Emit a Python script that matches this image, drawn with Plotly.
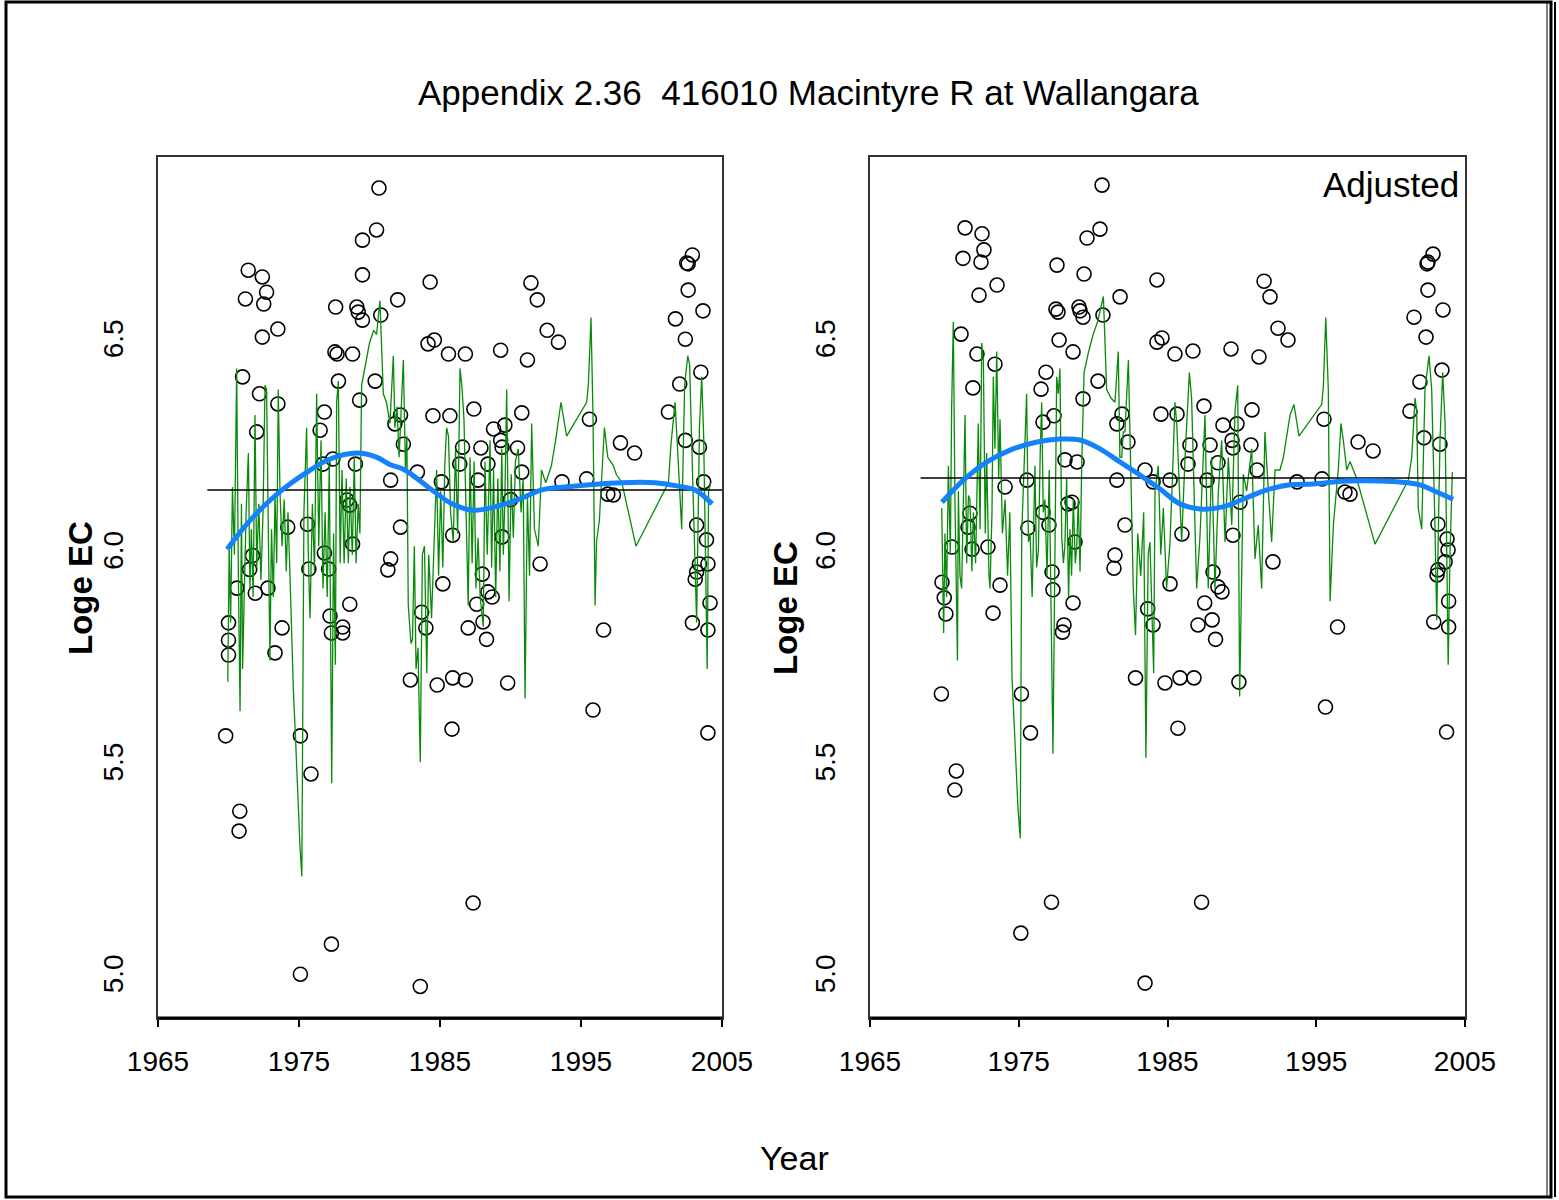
import plotly.graph_objects as go

# ---------------- data: left panel (raw) ----------------
RAW_YEAR = [
    1980.67, 1980.5, 1979.5, 1979.5, 1971.4, 1972.4, 1972.7, 1971.2, 1972.5, 1973.5,
    1972.4, 1977.6, 1979.1, 1979.2, 1979.5, 1980.8, 1977.55, 1977.7, 1978.8, 1971.0,
    1977.8, 1980.4, 1972.2, 1973.5, 1979.3, 1976.8, 1976.5, 1972.0, 1976.7, 1977.4,
    1979.0, 1981.5, 1978.4, 1978.6, 1974.2, 1975.6, 1978.8, 1971.7, 1971.5, 1976.8,
    1975.7, 1977.1, 1981.5, 1981.3,
    1970.6, 1971.9, 1972.8, 1970.0, 1970.0, 1970.0, 1973.8, 1973.3, 1978.6, 1977.2,
    1977.3, 1978.1, 1978.1, 1969.8, 1975.1, 1975.85, 1970.8, 1970.75, 1977.3, 1975.1,
    1984.3, 1991.45, 1991.9, 1982.0, 1992.6, 1993.4, 1984.15, 1984.6, 1985.6, 1986.8,
    1989.3, 1991.2, 1981.8, 1982.2, 1982.4, 1984.5, 1985.7, 1987.4, 1990.8, 1988.8,
    1989.6, 1989.3, 1989.4, 1986.6, 1987.9, 1990.5, 1986.4, 1988.4, 1983.4, 1990.8,
    1985.1, 1987.7, 1993.65, 1990.0, 1982.2, 1985.9, 1989.4, 1992.1, 1988.0, 1985.2,
    1987.6, 1988.4, 1988.7, 1983.7, 1984.0, 1987.0, 1988.05, 1988.3, 1982.9, 1984.8,
    1985.9, 1986.8, 1989.8, 1985.85, 1987.35, 1983.6,
    2002.9, 2002.6, 2002.5, 2002.6, 2003.65, 2001.7, 2002.4, 2003.5, 2002.0, 2001.2,
    1995.6, 2002.4, 2003.4, 1997.8, 1998.8, 1995.4, 1996.9, 1997.3, 2003.7, 2003.2,
    2003.9, 2003.4, 2004.0, 2003.2, 2003.1,
    2004.15, 2002.9, 2004.0, 1996.6, 1995.85, 2004.0,
]
RAW_LOGEC = [
    6.866, 6.767, 6.743, 6.661, 6.672, 6.656, 6.620, 6.604, 6.592, 6.533,
    6.514, 6.585, 6.585, 6.573, 6.554, 6.566, 6.479, 6.474, 6.474, 6.420,
    6.410, 6.410, 6.380, 6.356, 6.365, 6.337, 6.294, 6.290, 6.214, 6.226,
    6.214, 6.176, 6.129, 6.117, 6.065, 6.072, 6.025, 5.998, 5.965, 6.004,
    5.966, 5.966, 5.990, 5.964,
    5.921, 5.909, 5.921, 5.839, 5.798, 5.763, 5.827, 5.768, 5.883, 5.855,
    5.815, 5.829, 5.815, 5.572, 5.572, 5.482, 5.394, 5.347, 5.080, 5.009,
    6.644, 6.642, 6.602, 6.602, 6.530, 6.502, 6.498, 6.507, 6.474, 6.474,
    6.483, 6.460, 6.309, 6.330, 6.261, 6.328, 6.328, 6.344, 6.335, 6.297,
    6.306, 6.270, 6.254, 6.254, 6.252, 6.252, 6.214, 6.214, 6.195, 6.195,
    6.172, 6.176, 6.172, 6.130, 6.065, 6.046, 6.042, 5.978, 5.954, 5.931,
    5.883, 5.912, 5.900, 5.864, 5.827, 5.827, 5.841, 5.800, 5.704, 5.692,
    5.709, 5.704, 5.697, 5.588, 5.177, 4.980,
    6.708, 6.687, 6.689, 6.625, 6.576, 6.557, 6.509, 6.431, 6.403, 6.337,
    6.320, 6.270, 6.254, 6.264, 6.240, 6.179, 6.143, 6.141, 6.172, 6.070,
    6.035, 5.978, 5.978, 5.959, 5.942,
    5.886, 5.839, 5.822, 5.822, 5.633, 5.579,
]

RAW_FIT_YEAR = [1969.9, 1971.5, 1973.44, 1975.57, 1977.2, 1979.11, 1980.53, 1981.45,
                1982.5, 1984.15, 1985.85, 1987.34, 1988.9, 1990.53, 1992.23, 1993.87,
                1997.9, 2000.25, 2001.88, 2003.09, 2004.3]
RAW_FIT = [6.013, 6.080, 6.143, 6.195, 6.226, 6.240, 6.230, 6.213, 6.200, 6.160,
           6.120, 6.105, 6.113, 6.130, 6.153, 6.160, 6.170, 6.170, 6.162, 6.153, 6.120]

RAW_FLOW_YEAR = [
    1969.95, 1970.05, 1970.15, 1970.28, 1970.42, 1970.58, 1970.7, 1970.82, 1970.92, 1971.0,
    1971.1, 1971.25, 1971.41, 1971.52, 1971.62, 1971.75, 1971.88, 1972.0, 1972.15, 1972.3,
    1972.45, 1972.59, 1972.7, 1972.82, 1972.94, 1973.05, 1973.18, 1973.3, 1973.42, 1973.53,
    1973.65, 1973.8, 1973.95, 1974.1, 1974.22, 1974.36, 1974.48, 1974.6, 1974.75, 1974.9,
    1975.07, 1975.2, 1975.35, 1975.54, 1975.66, 1975.78, 1975.95, 1976.1, 1976.25, 1976.4,
    1976.56, 1976.7, 1976.85, 1977.0, 1977.15, 1977.32, 1977.45, 1977.58, 1977.67, 1977.79,
    1977.92, 1978.05, 1978.2, 1978.35, 1978.5, 1978.62, 1978.78, 1978.92, 1979.05, 1979.2,
    1979.32, 1979.44, 1979.7, 1980.0, 1980.3, 1980.5, 1980.74, 1980.98, 1981.2, 1981.45,
    1981.69, 1981.8, 1981.95, 1982.1, 1982.4, 1982.55, 1982.65, 1982.75, 1982.94, 1983.05,
    1983.18, 1983.3, 1983.44, 1983.6, 1983.75, 1983.9, 1984.06, 1984.2, 1984.4, 1984.6,
    1984.76, 1984.9, 1985.05, 1985.2, 1985.35, 1985.47, 1985.6, 1985.75, 1985.94, 1986.1,
    1986.25, 1986.42, 1986.55, 1986.7, 1986.9, 1987.0, 1987.13, 1987.28, 1987.42, 1987.55,
    1987.7, 1987.85, 1988.07, 1988.19, 1988.35, 1988.55, 1988.66, 1988.8, 1988.95, 1989.1,
    1989.25, 1989.38, 1989.49, 1989.6, 1989.73, 1989.9, 1990.05, 1990.2, 1990.35, 1990.55,
    1990.75, 1990.9, 1991.03, 1991.2, 1991.35, 1991.5, 1991.7, 1991.97, 1992.2, 1992.5,
    1992.9, 1993.2, 1993.58, 1993.98, 1995.4, 1995.52, 1995.71, 1995.85, 1996.0, 1996.1,
    1996.3, 1996.66, 1996.9, 1997.3, 1997.5, 1997.9, 1998.9, 2001.2, 2001.38, 2001.67,
    2001.85, 2002.14, 2002.35, 2002.57, 2002.7, 2002.85, 2003.0, 2003.2, 2003.4, 2003.56,
    2003.7, 2003.95, 2004.05, 2004.2,
]
RAW_FLOW = [
    5.70, 6.02, 5.84, 6.16, 6.00, 6.44, 5.95, 5.63, 6.12, 5.73,
    5.88, 6.10, 6.24, 5.92, 6.06, 5.90, 6.33, 5.97, 6.12, 5.94,
    6.10, 6.40, 6.39, 6.02, 5.75, 6.06, 5.90, 6.14, 5.98, 6.39,
    6.15, 6.02, 6.13, 5.96, 6.10, 5.95, 5.81, 5.68, 5.57, 5.43,
    5.31, 5.24, 6.10, 6.30, 6.00, 5.85, 6.12, 5.96, 6.38, 6.02,
    6.27, 5.92, 6.10, 5.90, 6.22, 5.46, 6.05, 5.74, 6.36, 6.41,
    5.98, 6.20, 5.98, 6.18, 5.98, 6.16, 6.00, 6.23, 5.98, 6.12,
    6.05, 6.40, 6.45, 6.50, 6.53, 6.52, 6.60, 6.38, 6.36, 6.31,
    6.47, 6.30, 6.35, 6.23, 6.46, 6.20, 6.28, 5.88, 5.79, 5.80,
    6.02, 5.73, 5.78, 5.51, 6.00, 6.02, 5.72, 6.00, 5.85, 6.05,
    6.20, 5.95, 6.15, 5.97, 6.22, 6.30, 6.28, 6.10, 6.03, 6.25,
    6.05, 6.44, 6.40, 6.32, 6.07, 5.88, 6.23, 5.98, 6.22, 5.92,
    6.04, 5.90, 5.83, 6.22, 6.00, 6.27, 5.97, 6.20, 5.90, 6.18,
    5.96, 6.25, 6.00, 6.13, 6.39, 5.89, 6.19, 6.04, 6.22, 6.25,
    6.10, 6.18, 5.66, 6.14, 5.95, 6.31, 6.06, 6.02, 6.20, 6.17,
    6.21, 6.27, 6.36, 6.28, 6.36, 6.40, 6.56, 6.33, 5.88, 6.03,
    6.08, 6.30, 6.23, 6.21, 6.19, 6.17, 6.02, 6.17, 6.26, 6.36,
    6.25, 6.06, 6.40, 6.47, 6.45, 6.25, 6.08, 5.84, 6.30, 6.42,
    6.28, 5.73, 6.15, 6.17,
]
RAW_MEAN = 6.153
RAW_MEAN_SPAN = [1968.5, 2005.0]

# ---------------- data: right panel (adjusted) ----------------
ADJ_YEAR = [
    1980.6, 1980.46, 1979.59, 1971.39, 1972.53, 1972.66, 1971.25, 1972.46, 1973.54, 1972.33,
    1977.57, 1979.39, 1977.5, 1977.64, 1979.05, 1979.12, 1979.32, 1980.66, 1971.12, 1977.71,
    1978.65, 1972.19, 1973.4, 1976.83, 1971.92, 1976.5, 1980.33, 1979.32, 1976.63, 1977.37,
    1978.11, 1978.92, 1974.08, 1975.55, 1971.72, 1971.59, 1970.51, 1971.86, 1972.93, 1975.62,
    1976.63, 1977.03, 1978.31, 1978.58, 1978.78, 1969.84, 1973.74, 1977.24, 1977.3,
    1969.99, 1970.1, 1973.27, 1978.65, 1978.04, 1977.94, 1969.8, 1975.18, 1975.79, 1970.8,
    1970.7, 1977.2, 1975.14, 1983.49, 1987.29, 1982.85, 1984.83, 1985.84, 1986.78, 1989.8,
    1985.7, 1995.62, 1996.43, 2003.76, 2003.9, 2002.9, 2003.9, 1983.67, 1984.03, 1987.5,
    1987.05, 1988.0, 1988.23,
    1984.29, 1981.81, 1991.49, 1991.89, 1992.43, 1993.1, 1984.29, 1984.63, 1985.5, 1986.71,
    1989.27, 1991.15, 1981.6, 1981.94, 1982.34, 1984.56, 1985.64, 1987.45, 1990.68, 1988.73,
    1989.67, 1989.34, 1989.4, 1986.51, 1987.86, 1990.61, 1986.38, 1988.39, 1983.49, 1991.02,
    1981.6, 1984.03, 1985.17, 1987.66, 1989.87, 1982.14, 1985.97, 1989.4, 1981.47, 1981.4,
    1992.09, 1988.06, 1985.17, 1988.39, 1988.66,
    2002.85, 2002.51, 2002.45, 2002.51, 2003.52, 2001.57, 2002.38, 2003.45, 2001.97, 2001.3,
    1995.52, 2002.24, 2003.32, 1997.81, 1998.82, 1993.71, 1995.39, 1996.93, 1997.27, 2003.18,
    2003.79, 2003.66, 2003.18, 2003.12, 2003.86,
]
ADJ_LOGEC = [
    6.873, 6.769, 6.748, 6.772, 6.758, 6.720, 6.700, 6.691, 6.637, 6.613,
    6.684, 6.663, 6.580, 6.573, 6.585, 6.576, 6.561, 6.566, 6.521, 6.507,
    6.479, 6.474, 6.450, 6.431, 6.394, 6.391, 6.410, 6.368, 6.313, 6.328,
    6.224, 6.219, 6.160, 6.176, 6.098, 6.065, 6.018, 6.013, 6.018, 6.063,
    6.100, 6.070, 6.120, 6.124, 6.030, 5.935, 5.928, 5.959, 5.917,
    5.898, 5.860, 5.862, 5.886, 5.834, 5.817, 5.671, 5.671, 5.579, 5.489,
    5.444, 5.179, 5.106, 4.988, 5.179, 5.709, 5.697, 5.709, 5.709, 5.699,
    5.590, 5.640, 5.829, 5.581, 5.890, 5.841, 5.829, 5.872, 5.834, 5.886,
    5.834, 5.846, 5.800,
    6.649, 6.609, 6.646, 6.609, 6.535, 6.507, 6.502, 6.512, 6.474, 6.481,
    6.486, 6.467, 6.309, 6.332, 6.266, 6.332, 6.332, 6.351, 6.342, 6.306,
    6.309, 6.270, 6.252, 6.259, 6.259, 6.259, 6.214, 6.217, 6.200, 6.200,
    6.176, 6.172, 6.176, 6.176, 6.124, 6.070, 6.049, 6.046, 5.999, 5.968,
    5.983, 5.959, 5.931, 5.924, 5.912,
    6.710, 6.691, 6.687, 6.625, 6.578, 6.561, 6.514, 6.436, 6.408, 6.339,
    6.320, 6.276, 6.261, 6.266, 6.245, 6.172, 6.179, 6.148, 6.143, 6.072,
    6.037, 5.983, 5.964, 5.952, 6.011,
]

ADJ_FIT_YEAR = [1969.84, 1971.5, 1972.87, 1974.41, 1976.23, 1977.77, 1979.12, 1980.46,
                1981.8, 1983.15, 1984.5, 1985.84, 1987.18, 1988.73, 1990.08, 1991.69,
                1993.24, 1994.78, 1997.07, 2000.43, 2001.97, 2003.1, 2004.2]
ADJ_FIT = [6.124, 6.183, 6.219, 6.247, 6.266, 6.273, 6.271, 6.250, 6.219, 6.188,
           6.155, 6.120, 6.108, 6.113, 6.131, 6.153, 6.165, 6.167, 6.174, 6.172,
           6.165, 6.148, 6.131]

ADJ_FLOW_YEAR = [
    1969.82, 1969.95, 1970.04, 1970.15, 1970.27, 1970.4, 1970.49, 1970.6, 1970.71, 1970.88,
    1970.94, 1971.05, 1971.16, 1971.28, 1971.39, 1971.5, 1971.62, 1971.72, 1971.85, 1971.95,
    1972.1, 1972.28, 1972.4, 1972.51, 1972.62, 1972.75, 1972.84, 1973.0, 1973.07, 1973.2,
    1973.29, 1973.4, 1973.52, 1973.65, 1973.74, 1973.9, 1974.08, 1974.25, 1974.4, 1974.55,
    1974.68, 1974.8, 1974.95, 1975.1, 1975.2, 1975.35, 1975.53, 1975.65, 1975.76, 1975.9,
    1976.09, 1976.2, 1976.32, 1976.45, 1976.54, 1976.65, 1976.76, 1976.9, 1977.05, 1977.3,
    1977.44, 1977.55, 1977.66, 1977.77, 1977.89, 1978.0, 1978.1, 1978.22, 1978.35, 1978.45,
    1978.55, 1978.67, 1978.8, 1978.9, 1979.0, 1979.12, 1979.23, 1979.39, 1979.7, 1980.0,
    1980.3, 1980.69, 1980.91, 1981.2, 1981.47, 1981.69, 1981.8, 1981.92, 1982.03, 1982.14,
    1982.37, 1982.5, 1982.7, 1982.85, 1983.0, 1983.2, 1983.4, 1983.55, 1983.7, 1983.82,
    1984.07, 1984.16, 1984.38, 1984.55, 1984.72, 1984.94, 1985.17, 1985.35, 1985.5, 1985.62,
    1985.73, 1985.95, 1986.18, 1986.47, 1986.62, 1986.85, 1986.96, 1987.18, 1987.35, 1987.52,
    1987.74, 1987.97, 1988.19, 1988.42, 1988.64, 1988.87, 1989.09, 1989.32, 1989.54, 1989.72,
    1989.85, 1990.1, 1990.32, 1990.5, 1990.66, 1990.88, 1991.1, 1991.33, 1991.55, 1991.78,
    1992.0, 1992.23, 1992.56, 1992.79, 1993.24, 1993.5, 1993.84, 1995.37, 1995.48, 1995.64,
    1995.81, 1995.93, 1996.15, 1996.48, 1996.66, 1996.82, 1997.05, 1997.27, 1997.72, 1998.95,
    2001.19, 2001.42, 2001.64, 2001.75, 2001.86, 2002.09, 2002.31, 2002.58, 2002.76, 2002.98,
    2003.1, 2003.32, 2003.5, 2003.66, 2003.87, 2003.99, 2004.15,
]
ADJ_FLOW = [
    6.11, 5.815, 6.05, 5.90, 6.21, 6.00, 6.35, 6.55, 6.13, 5.75,
    6.15, 5.95, 5.92, 6.12, 6.33, 5.98, 6.14, 6.13, 5.96, 6.10,
    5.98, 6.31, 6.06, 6.50, 6.46, 6.05, 6.24, 5.95, 5.92, 6.10,
    6.42, 6.25, 6.48, 6.18, 6.32, 6.05, 6.13, 5.95, 6.10, 5.71,
    5.60, 5.50, 5.40, 5.33, 6.05, 6.20, 6.38, 6.03, 6.05, 5.90,
    6.21, 5.97, 6.01, 6.25, 6.36, 6.10, 6.13, 5.95, 6.20, 5.53,
    6.05, 6.42, 6.38, 6.44, 6.04, 5.98, 6.02, 6.18, 5.90, 6.06,
    5.95, 6.13, 5.98, 6.02, 6.13, 5.96, 6.21, 6.43, 6.48, 6.52,
    6.55, 6.61, 6.39, 6.37, 6.36, 6.48, 6.23, 6.23, 6.29, 6.29,
    6.46, 6.21, 5.92, 5.81, 6.05, 5.95, 6.10, 5.52, 6.00, 6.03,
    5.72, 6.15, 6.21, 6.00, 6.11, 5.92, 6.03, 6.20, 6.36, 6.31,
    6.20, 6.03, 6.23, 6.43, 6.37, 6.07, 5.92, 6.04, 6.20, 6.33,
    5.92, 6.23, 5.92, 6.15, 6.27, 6.03, 6.23, 6.07, 6.34, 6.40,
    5.665, 6.19, 6.15, 6.20, 6.25, 5.99, 6.07, 5.92, 6.29, 6.15,
    6.03, 6.20, 6.20, 6.23, 6.33, 6.355, 6.28, 6.355, 6.40, 6.56,
    6.39, 5.89, 6.07, 6.20, 6.31, 6.27, 6.20, 6.22, 6.18, 6.025,
    6.176, 6.23, 6.37, 6.34, 6.11, 6.06, 6.39, 6.47, 6.39, 6.07,
    5.845, 6.27, 6.43, 6.31, 5.74, 6.00, 6.195,
]
ADJ_MEAN = 6.181
ADJ_MEAN_SPAN = [1968.4, 2005.0]

YEAR_TICKS = [1965, 1975, 1985, 1995, 2005]
LOGEC_TICKS = [5.0, 5.5, 6.0, 6.5]
LOGEC_LABELS = ["5.0", "5.5", "6.0", "6.5"]

TITLE = "Appendix 2.36\u00a0 416010 Macintyre R at Wallangara"

# ---------------- styling ----------------
W, H = 1559, 1200
FONT = "Arial, Liberation Sans, sans-serif"
GREEN = "#0A8A0A"
BLUE = "rgb(20,130,250)"
Y_RANGE = [4.9055, 6.9394]
Y_DOMAIN = [1 - 1018 / H, 1 - 157 / H]

fig = go.Figure()


def add_panel(xa, ya, yr, val, fy, fv, flowy, flowv, mean, span):
    fig.add_trace(go.Scatter(
        x=yr, y=val, mode="markers", xaxis=xa, yaxis=ya,
        marker=dict(symbol="circle-open", size=14, color="black",
                    line=dict(width=1.6, color="black")),
        showlegend=False, hoverinfo="x+y"))
    fig.add_trace(go.Scatter(
        x=flowy, y=flowv, mode="lines", xaxis=xa, yaxis=ya,
        line=dict(color=GREEN, width=1.3), showlegend=False))
    fig.add_trace(go.Scatter(
        x=span, y=[mean, mean], mode="lines", xaxis=xa, yaxis=ya,
        line=dict(color="black", width=1.5), showlegend=False))
    fig.add_trace(go.Scatter(
        x=fy, y=fv, mode="lines", xaxis=xa, yaxis=ya,
        line=dict(color=BLUE, width=5, shape="spline", smoothing=1.0),
        showlegend=False))


add_panel("x", "y", RAW_YEAR, RAW_LOGEC, RAW_FIT_YEAR, RAW_FIT,
          RAW_FLOW_YEAR, RAW_FLOW, RAW_MEAN, RAW_MEAN_SPAN)
add_panel("x2", "y2", ADJ_YEAR, ADJ_LOGEC, ADJ_FIT_YEAR, ADJ_FIT,
          ADJ_FLOW_YEAR, ADJ_FLOW, ADJ_MEAN, ADJ_MEAN_SPAN)

xcommon = dict(
    range=[1965, 2005], tickvals=YEAR_TICKS, ticks="outside", ticklen=7,
    tickwidth=1.5, tickcolor="black", showline=True, mirror=True,
    linecolor="#333333", linewidth=1.5, showgrid=False, zeroline=False,
    tickfont=dict(family=FONT, size=28, color="black"),
    ticklabelstandoff=11, automargin=False)
ycommon = dict(
    range=Y_RANGE, domain=Y_DOMAIN, tickvals=LOGEC_TICKS, ticktext=LOGEC_LABELS,
    tickangle=-90, ticks="outside", ticklen=22, tickcolor="rgba(0,0,0,0)",
    showline=True, mirror=True, linecolor="#333333", linewidth=1.5,
    showgrid=False, zeroline=False,
    tickfont=dict(family=FONT, size=28, color="black"), automargin=False)

fig.update_layout(
    width=W, height=H, margin=dict(l=0, r=0, t=0, b=0),
    paper_bgcolor="white", plot_bgcolor="white",
    xaxis=dict(domain=[158 / W, 722 / W], anchor="y", **xcommon),
    yaxis=dict(anchor="x", **ycommon),
    xaxis2=dict(domain=[870 / W, 1465 / W], anchor="y2", **xcommon),
    yaxis2=dict(anchor="x2", **ycommon),
)

shapes = []
# heavy baseline along the bottom of each panel
for xa, ya in (("x", "y"), ("x2", "y2")):
    shapes.append(dict(type="line", xref=f"{xa} domain", yref=f"{ya} domain",
                       x0=0, x1=1, y0=0, y1=0,
                       line=dict(color="black", width=3)))
# page frame
shapes.append(dict(type="rect", xref="paper", yref="paper",
                   x0=6 / W, x1=1551 / W, y0=1 - 1197 / H, y1=1 - 2 / H,
                   line=dict(color="black", width=3)))
shapes.append(dict(type="line", xref="paper", yref="paper",
                   x0=1555 / W, x1=1555 / W, y0=1 - 1197 / H, y1=1 - 2 / H,
                   line=dict(color="black", width=2)))
shapes.append(dict(type="line", xref="paper", yref="paper",
                   x0=1547 / W, x1=1547 / W, y0=1 - 1197 / H, y1=1 - 2 / H,
                   line=dict(color="black", width=1)))
fig.update_layout(shapes=shapes)

annotations = [
    dict(text=TITLE, x=808 / W, y=1 - 92 / H, xref="paper", yref="paper",
         showarrow=False, xanchor="center", yanchor="middle",
         font=dict(family=FONT, size=35, color="black")),
    dict(text="<b>Loge EC</b>", x=80 / W, y=1 - 588 / H, xref="paper", yref="paper",
         showarrow=False, textangle=-90, xanchor="center", yanchor="middle",
         font=dict(family=FONT, size=33, color="black")),
    dict(text="<b>Loge EC</b>", x=785 / W, y=1 - 608 / H, xref="paper", yref="paper",
         showarrow=False, textangle=-90, xanchor="center", yanchor="middle",
         font=dict(family=FONT, size=33, color="black")),
    dict(text="Year", x=795 / W, y=1 - 1158 / H, xref="paper", yref="paper",
         showarrow=False, xanchor="center", yanchor="middle",
         font=dict(family=FONT, size=34, color="black")),
    dict(text="Adjusted", x=1461 / W, y=1 - 184 / H, xref="paper", yref="paper",
         showarrow=False, xanchor="right", yanchor="middle",
         font=dict(family=FONT, size=35, color="black")),
]
fig.update_layout(annotations=annotations)

fig.write_html("out.html")
